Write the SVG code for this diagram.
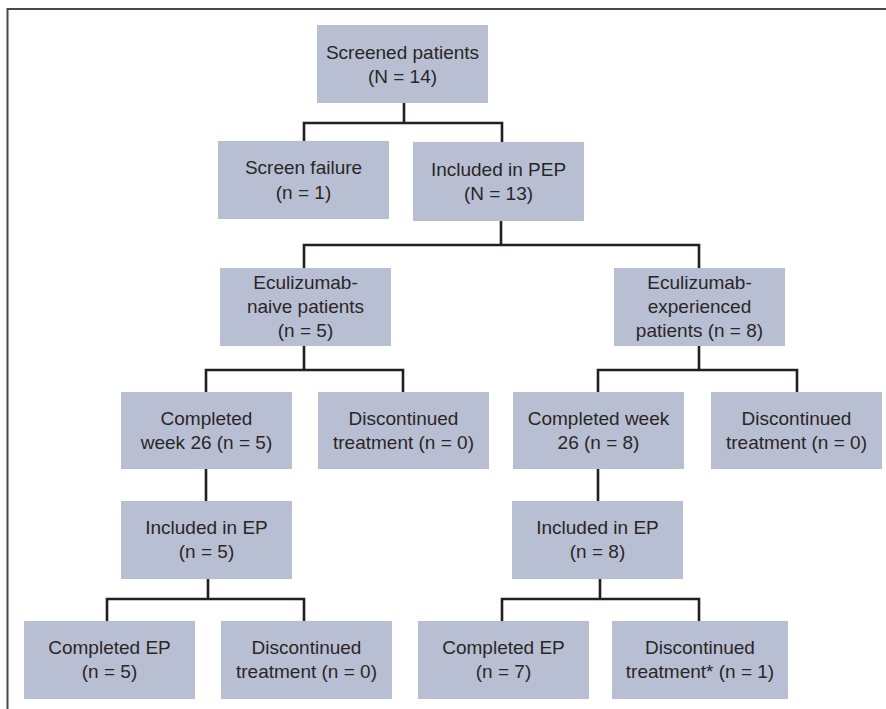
<svg xmlns="http://www.w3.org/2000/svg" width="886" height="709" viewBox="0 0 886 709">
<style>
.box{fill:#b9bfd3}
.t{font-family:"Liberation Sans",Arial,sans-serif;font-size:19px;fill:#2a2627;text-anchor:middle}
.c{fill:none;stroke:#231f20;stroke-width:2.6}
.frame{fill:none;stroke:#4a4a4a;stroke-width:2}
</style>
<rect width="886" height="709" fill="#ffffff"/>
<path class="frame" d="M7.5 709 V9 H886"/>
<g id="connectors">
<path class="c" d="M404 103 V123 M304 141 V123 H502 V142"/>
<path class="c" d="M501 221 V245 M304 268 V245 H699 V268"/>
<path class="c" d="M304 346 V370 M206 392 V370 H403 V392"/>
<path class="c" d="M699 346 V370 M598 392 V370 H797 V392"/>
<path class="c" d="M206 469 V501"/>
<path class="c" d="M598 469 V501"/>
<path class="c" d="M208 579 V599 M107 621 V599 H304 V621"/>
<path class="c" d="M600 579 V599 M502 621 V599 H699 V621"/>
</g>
<g id="screened"><rect class="box" x="317" y="25" width="171" height="78"/><text class="t" x="402.5" y="58.5">Screened patients</text><text class="t" x="402.5" y="82.5">(N = 14)</text></g>
<g id="screen-failure"><rect class="box" x="218" y="141" width="171" height="78"/><text class="t" x="303.5" y="174">Screen failure</text><text class="t" x="303.5" y="199">(n = 1)</text></g>
<g id="pep"><rect class="box" x="413" y="142" width="171" height="79"/><text class="t" x="498.5" y="175.5">Included in PEP</text><text class="t" x="498.5" y="200">(N = 13)</text></g>
<g id="naive"><rect class="box" x="220" y="268" width="171" height="78"/><text class="t" x="305.5" y="288.5">Eculizumab-</text><text class="t" x="305.5" y="312.5">naive patients</text><text class="t" x="305.5" y="336.5">(n = 5)</text></g>
<g id="experienced"><rect class="box" x="614" y="268" width="171" height="78"/><text class="t" x="699.5" y="288.5">Eculizumab-</text><text class="t" x="699.5" y="312.5">experienced</text><text class="t" x="699.5" y="336.5">patients (n = 8)</text></g>
<g id="naive-completed26"><rect class="box" x="121" y="392" width="171" height="77"/><text class="t" x="206.5" y="425">Completed</text><text class="t" x="206.5" y="449">week 26 (n = 5)</text></g>
<g id="naive-discontinued"><rect class="box" x="318" y="392" width="171" height="77"/><text class="t" x="403.5" y="425">Discontinued</text><text class="t" x="403.5" y="449">treatment (n = 0)</text></g>
<g id="exp-completed26"><rect class="box" x="513" y="392" width="171" height="77"/><text class="t" x="598.5" y="425">Completed week</text><text class="t" x="598.5" y="449">26 (n = 8)</text></g>
<g id="exp-discontinued"><rect class="box" x="711" y="392" width="171" height="77"/><text class="t" x="796.5" y="425">Discontinued</text><text class="t" x="796.5" y="449">treatment (n = 0)</text></g>
<g id="naive-ep"><rect class="box" x="121" y="501" width="171" height="78"/><text class="t" x="206.5" y="534">Included in EP</text><text class="t" x="206.5" y="558">(n = 5)</text></g>
<g id="exp-ep"><rect class="box" x="512" y="501" width="171" height="78"/><text class="t" x="597.5" y="534">Included in EP</text><text class="t" x="597.5" y="558">(n = 8)</text></g>
<g id="naive-completed-ep"><rect class="box" x="24" y="621" width="171" height="78"/><text class="t" x="109.5" y="654">Completed EP</text><text class="t" x="109.5" y="678">(n = 5)</text></g>
<g id="naive-ep-discontinued"><rect class="box" x="221" y="621" width="171" height="78"/><text class="t" x="306.5" y="654">Discontinued</text><text class="t" x="306.5" y="678">treatment (n = 0)</text></g>
<g id="exp-completed-ep"><rect class="box" x="418" y="621" width="171" height="78"/><text class="t" x="503.5" y="654">Completed EP</text><text class="t" x="503.5" y="678">(n = 7)</text></g>
<g id="exp-ep-discontinued"><rect class="box" x="612" y="621" width="176" height="78"/><text class="t" x="700" y="654">Discontinued</text><text class="t" x="700" y="678">treatment* (n = 1)</text></g>
</svg>
